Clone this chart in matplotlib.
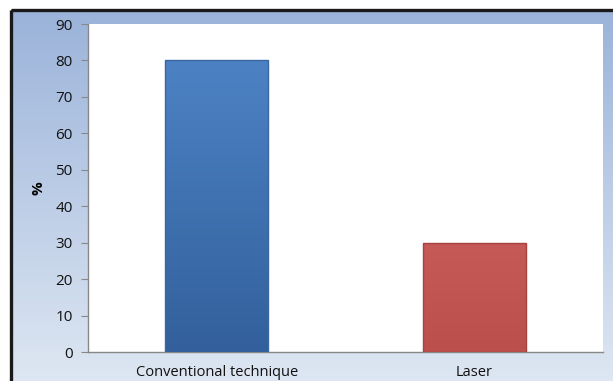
import numpy as np
import matplotlib.pyplot as plt
from matplotlib.patches import Rectangle
from matplotlib.colors import LinearSegmentedColormap

categories = ['Conventional technique', 'Laser']
values = [80, 30]
bar_top = ['#4c82c4', '#c55a57']
bar_bottom = ['#33609c', '#bb4f4c']
edge_colors = ['#3a67a3', '#a8423f']

plt.rcParams['font.family'] = ['Open Sans', 'DejaVu Sans']

fig = plt.figure(figsize=(6.13, 3.81), dpi=100)

# fondo con degradado y marco negro (solo arriba e izquierda)
bg = fig.add_axes([0, 0, 1, 1], zorder=-10)
bg.axis('off')
cmap = LinearSegmentedColormap.from_list('bg', ['#9bb3da', '#dfe8f3'])
grad = np.linspace(0, 1, 256).reshape(-1, 1)
bg.imshow(grad, cmap=cmap, extent=[11, 620, 390, 10], aspect='auto')
bg.add_patch(Rectangle((11, 10), 620, 380, fill=False, edgecolor='#1a1a1a', lw=2.4))
bg.set_xlim(0, 613)
bg.set_ylim(381, 0)

ax = fig.add_axes([88 / 613, 1 - 352 / 381, 515 / 613, 328 / 381])
ax.set_facecolor('white')
x = np.arange(len(categories))
bars = ax.bar(x, values, width=0.4, color='none', edgecolor=edge_colors, linewidth=1.0, zorder=4)

# degradado vertical en cada barra
vgrad = np.linspace(0, 1, 256).reshape(-1, 1)
for b, c0, c1 in zip(bars, bar_top, bar_bottom):
    cm = LinearSegmentedColormap.from_list('b', [c1, c0])
    im = ax.imshow(vgrad, cmap=cm, origin='lower', aspect='auto', zorder=3,
                   extent=[b.get_x(), b.get_x() + b.get_width(), 0, b.get_height()])
    im.set_clip_path(b)

ax.set_xlim(-0.5, 1.5)
ax.set_ylim(0, 90)
ax.set_yticks(range(0, 91, 10))
ax.set_xticks(x)
ax.set_xticklabels(categories, fontsize=10.5, color='#111111')
ax.tick_params(axis='x', length=0, pad=9)
ax.tick_params(axis='y', length=5, color='#888888', labelsize=11, labelcolor='#111111', pad=6)
ax.set_ylabel('%', fontsize=11, fontweight='bold', labelpad=7)

for s in ['top', 'right']:
    ax.spines[s].set_visible(False)
for s in ['left', 'bottom']:
    ax.spines[s].set_color('#888888')
    ax.spines[s].set_linewidth(1)

fig.savefig('out.png', dpi=100)
